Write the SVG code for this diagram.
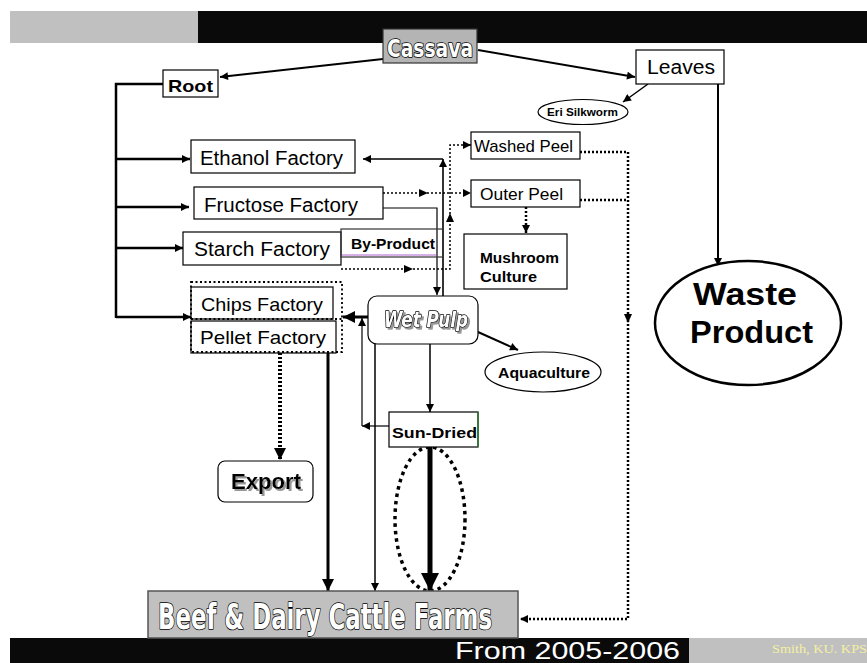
<svg xmlns="http://www.w3.org/2000/svg" width="867" height="663" viewBox="0 0 867 663">
<defs>
<marker id="ah" viewBox="0 0 10 10" refX="10" refY="5" markerWidth="9" markerHeight="8" markerUnits="userSpaceOnUse" orient="auto"><path d="M0,0 L10,5 L0,10 z" fill="#000"/></marker>
<marker id="ahL" viewBox="0 0 10 10" refX="10" refY="5" markerWidth="14" markerHeight="12" markerUnits="userSpaceOnUse" orient="auto"><path d="M0,0 L10,5 L0,10 z" fill="#000"/></marker>
<marker id="ahX" viewBox="0 0 10 10" refX="10" refY="5" markerWidth="22" markerHeight="18" markerUnits="userSpaceOnUse" orient="auto"><path d="M0,0 L10,5 L0,10 z" fill="#000"/></marker>
<filter id="shadow" x="-10%" y="-20%" width="130%" height="150%"><feDropShadow dx="2" dy="2" stdDeviation="0.3" flood-color="#999" flood-opacity="1"/></filter>
</defs>
<style>
.box{fill:#fff;stroke:#000;stroke-width:1.2}
.t{font-family:"Liberation Sans","DejaVu Sans",sans-serif;fill:#000}
.b{font-weight:bold}
.imp{font-family:"Liberation Sans Narrow","DejaVu Sans Condensed","Liberation Sans",sans-serif;font-weight:bold;fill:#fff;stroke:#000;stroke-width:1.6;paint-order:stroke;stroke-linejoin:round}
.ln{fill:none;stroke:#000}
.dot{fill:none;stroke:#000;stroke-dasharray:2 2}
</style>
<rect x="0" y="0" width="867" height="663" fill="#fff"/>
<!-- banners -->
<rect x="10" y="11" width="188" height="32" fill="#c0c0c0"/>
<rect x="198" y="11" width="669" height="32" fill="#0a0a0a"/>
<rect x="10" y="638" width="679" height="25" fill="#0a0a0a"/>
<rect x="689" y="638" width="178" height="25" fill="#c0c0c0"/>
<text x="455" y="659" font-family="Liberation Sans, sans-serif" font-size="24" fill="#fff" textLength="225" lengthAdjust="spacingAndGlyphs">From 2005-2006</text>
<text x="772" y="653" font-family="Liberation Serif, serif" font-size="13" fill="#f4f0a0" textLength="95" lengthAdjust="spacingAndGlyphs">Smith, KU. KPS</text>

<!-- connectors -->
<g id="connectors">
<line class="ln" x1="383" y1="59" x2="220" y2="77" stroke-width="2" marker-end="url(#ah)"/>
<line class="ln" x1="478" y1="50" x2="635" y2="77" stroke-width="2" marker-end="url(#ah)"/>
<line class="ln" x1="648" y1="84" x2="623" y2="102" stroke-width="1.5" marker-end="url(#ah)"/>
<line class="ln" x1="718" y1="84" x2="718" y2="266" stroke-width="2" marker-end="url(#ah)"/>
<path class="ln" d="M163,84 H116 V318" stroke-width="2.5"/>
<line class="ln" x1="116" y1="159" x2="190" y2="159" stroke-width="2.5" marker-end="url(#ah)"/>
<line class="ln" x1="116" y1="207" x2="189" y2="207" stroke-width="2.5" marker-end="url(#ah)"/>
<line class="ln" x1="116" y1="248" x2="183" y2="248" stroke-width="2.5" marker-end="url(#ah)"/>
<line class="ln" x1="116" y1="317" x2="191" y2="317" stroke-width="2.5" marker-end="url(#ah)"/>
<!-- wet pulp to ethanol -->
<line class="ln" x1="443" y1="296" x2="443" y2="159" stroke-width="1.6" marker-end="url(#ah)"/>
<line class="ln" x1="443" y1="159" x2="363" y2="159" stroke-width="1.3" marker-end="url(#ah)"/>
<!-- fructose to wet pulp -->
<path class="ln" d="M383,208 H437 V295" stroke="#333" stroke-width="1.2" marker-end="url(#ah)"/>
<!-- dotted by-product path to washed peel -->
<path class="dot" d="M341,269 H450 V145 H471" stroke-width="1.5" marker-end="url(#ah)"/>
<path d="M404,265 L413,269 L404,273 z M446,222 L450,213 L454,222 z"/>
<!-- fructose dotted to outer peel -->
<line class="dot" x1="383" y1="193" x2="471" y2="193" stroke-width="1.5" marker-end="url(#ah)"/>
<path d="M419,189 L428,193 L419,197 z"/>
<!-- outer peel to mushroom -->
<line class="dot" x1="526" y1="207" x2="526" y2="233" stroke-width="2.5" stroke-dasharray="3 2" marker-end="url(#ah)"/>
<!-- peel waste to beef -->
<path class="dot" d="M580,152 H628 V619 H520" stroke-width="2.5" marker-end="url(#ah)"/>
<line class="dot" x1="580" y1="200" x2="628" y2="200" stroke-width="2.5"/>
<path d="M624,314 L628,323 L632,314 z"/>
<!-- wet pulp to chips -->
<line class="ln" x1="368" y1="317" x2="343" y2="317" stroke-width="3" marker-end="url(#ahL)"/>
<!-- sun-dried back up -->
<line class="ln" x1="389" y1="426" x2="362" y2="426" stroke-width="1.2" marker-end="url(#ah)"/>
<line class="ln" x1="362" y1="426" x2="362" y2="318" stroke-width="1.2" marker-end="url(#ah)"/>
<!-- wet pulp to beef -->
<line class="ln" x1="375" y1="344" x2="375" y2="591" stroke-width="1.5" marker-end="url(#ah)"/>
<!-- wet pulp to sun-dried -->
<line class="ln" x1="430" y1="344" x2="430" y2="412" stroke-width="1.5" marker-end="url(#ah)"/>
<!-- sun-dried to beef -->
<line class="ln" x1="430" y1="447" x2="430" y2="591" stroke-width="5" marker-end="url(#ahX)"/>
<ellipse cx="430" cy="519" rx="35" ry="72" fill="none" stroke="#000" stroke-width="3.5" stroke-dasharray="3.5 4"/>
<!-- pellet to beef -->
<line class="ln" x1="328" y1="353" x2="328" y2="591" stroke-width="3" marker-end="url(#ahL)"/>
<!-- pellet to export -->
<line class="dot" x1="280" y1="353" x2="280" y2="460" stroke-width="4" stroke-dasharray="4 4" marker-end="url(#ahL)"/>
<!-- wet pulp to aquaculture -->
<line class="ln" x1="478" y1="332" x2="518" y2="350" stroke-width="2" marker-end="url(#ah)"/>
</g>

<g id="cassava">
<rect x="383" y="29" width="94" height="34" fill="#b4b4b4" stroke="#333" stroke-width="1.2"/>
<text class="imp" x="430" y="57" font-size="24" text-anchor="middle" textLength="86" lengthAdjust="spacingAndGlyphs">Cassava</text>
</g>
<g id="root">
<rect class="box" x="163" y="70" width="55" height="27"/>
<text class="t b" x="168" y="92" font-size="17" textLength="45" lengthAdjust="spacingAndGlyphs">Root</text>
</g>
<g id="leaves">
<rect class="box" x="636" y="50" width="88" height="34"/>
<text class="t" x="647" y="74" font-size="20" textLength="68" lengthAdjust="spacingAndGlyphs">Leaves</text>
</g>
<g id="eri">
<ellipse cx="583" cy="112" rx="45" ry="12.5" fill="#fff" stroke="#000" stroke-width="1.2"/>
<text class="t b" x="547" y="116" font-size="11" textLength="71" lengthAdjust="spacingAndGlyphs">Eri Silkworm</text>
</g>
<g id="waste">
<ellipse cx="748" cy="323" rx="93" ry="62" fill="#fff" stroke="#000" stroke-width="2.5"/>
<text class="t b" x="693" y="305" font-size="31" textLength="104" lengthAdjust="spacingAndGlyphs">Waste</text>
<text class="t b" x="690" y="343" font-size="31" textLength="123" lengthAdjust="spacingAndGlyphs">Product</text>
</g>
<g id="ethanol">
<rect class="box" x="191" y="140" width="164" height="33"/>
<text class="t" x="200" y="165" font-size="20" textLength="143" lengthAdjust="spacingAndGlyphs">Ethanol Factory</text>
</g>
<g id="fructose">
<rect class="box" x="194" y="187" width="189" height="32"/>
<text class="t" x="204" y="212" font-size="20" textLength="154" lengthAdjust="spacingAndGlyphs">Fructose Factory</text>
</g>
<g id="starch">
<rect class="box" x="183" y="232" width="158" height="33"/>
<text class="t" x="194" y="256" font-size="20" textLength="136" lengthAdjust="spacingAndGlyphs">Starch Factory</text>
</g>
<g id="byproduct">
<rect x="341" y="229" width="102" height="28" fill="none" stroke="#333" stroke-width="1.2"/>
<line x1="342" y1="255" x2="436" y2="255" stroke="#b060d0" stroke-width="1"/>
<text class="t b" x="351" y="249" font-size="14" textLength="84" lengthAdjust="spacingAndGlyphs">By-Product</text>
</g>
<g id="washed">
<rect class="box" x="471" y="132" width="109" height="27"/>
<text class="t" x="474" y="152" font-size="17" textLength="99" lengthAdjust="spacingAndGlyphs">Washed Peel</text>
</g>
<g id="outer">
<rect class="box" x="471" y="180" width="109" height="27"/>
<text class="t" x="480" y="200" font-size="17" textLength="83" lengthAdjust="spacingAndGlyphs">Outer Peel</text>
</g>
<g id="mushroom">
<rect class="box" x="464" y="234" width="103" height="55"/>
<text class="t b" x="480" y="263" font-size="14" textLength="79" lengthAdjust="spacingAndGlyphs">Mushroom</text>
<text class="t b" x="480" y="282" font-size="14" textLength="57" lengthAdjust="spacingAndGlyphs">Culture</text>
</g>
<g id="chips-pellet">
<rect class="box" x="191" y="287" width="142" height="32"/>
<rect class="box" x="191" y="321" width="145" height="32"/>
<rect x="191" y="282" width="151" height="70" fill="none" stroke="#000" stroke-width="1.8" stroke-dasharray="2 2.5"/>
<line x1="191" y1="319" x2="342" y2="319" stroke="#000" stroke-width="1.8" stroke-dasharray="2 2.5"/>
<text class="t" x="201" y="311" font-size="19" textLength="122" lengthAdjust="spacingAndGlyphs">Chips Factory</text>
<text class="t" x="200" y="344" font-size="19" textLength="126" lengthAdjust="spacingAndGlyphs">Pellet Factory</text>
</g>
<g id="wetpulp">
<rect x="368" y="296" width="110" height="48" rx="9" fill="#fff" stroke="#000" stroke-width="1.2"/>
<text class="imp" x="384" y="327" font-size="22" font-style="italic" filter="url(#shadow)" textLength="84" lengthAdjust="spacingAndGlyphs">Wet Pulp</text>
</g>
<g id="aquaculture">
<ellipse cx="543" cy="372" rx="58" ry="20" fill="#fff" stroke="#000" stroke-width="1.2"/>
<text class="t b" x="498" y="378" font-size="14" textLength="92" lengthAdjust="spacingAndGlyphs">Aquaculture</text>
</g>
<g id="sundried">
<rect class="box" x="389" y="412" width="89" height="35"/>
<line x1="478" y1="412" x2="478" y2="447" stroke="#2e7d32" stroke-width="1.5"/>
<text class="t b" x="392" y="438" font-size="15" textLength="85" lengthAdjust="spacingAndGlyphs">Sun-Dried</text>
</g>
<g id="export">
<rect x="218" y="461" width="95" height="41" rx="7" fill="#fff" stroke="#000" stroke-width="1.2"/>
<text class="t b" x="231" y="489" font-size="22" filter="url(#shadow)" textLength="70" lengthAdjust="spacingAndGlyphs">Export</text>
</g>
<g id="beef">
<rect x="148" y="591" width="370" height="47" fill="#c0c0c0" stroke="#555" stroke-width="1.5"/>
<text class="imp" x="158" y="629" font-size="35" textLength="334" lengthAdjust="spacingAndGlyphs">Beef &amp; Dairy Cattle Farms</text>
</g>
</svg>
